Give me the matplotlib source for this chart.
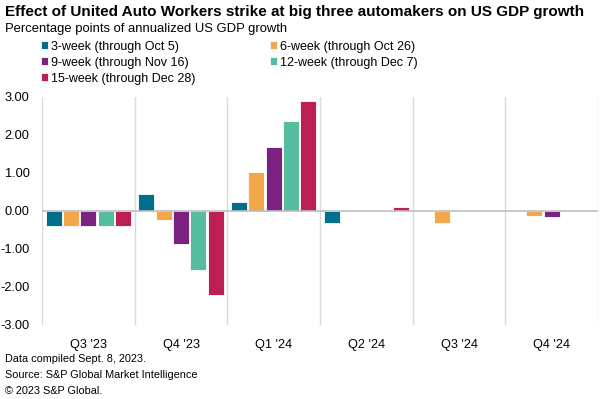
import matplotlib
matplotlib.use("Agg")
import matplotlib.pyplot as plt
import numpy as np

plt.rcParams['font.family'] = ['Liberation Sans', 'DejaVu Sans']

categories = ["Q3 '23", "Q4 '23", "Q1 '24", "Q2 '24", "Q3 '24", "Q4 '24"]
series_names = ["3-week (through Oct 5)", "6-week (through Oct 26)",
                "9-week (through Nov 16)", "12-week (through Dec 7)",
                "15-week (through Dec 28)"]
wk3 = [-0.40, 0.45, 0.23, -0.33, 0.0, 0.0]
wk6 = [-0.40, -0.23, 1.03, 0.0, -0.33, -0.13]
wk9 = [-0.40, -0.88, 1.67, 0.0, 0.0, -0.15]
wk12 = [-0.40, -1.55, 2.35, 0.0, 0.0, 0.0]
wk15 = [-0.40, -2.20, 2.88, 0.10, 0.0, 0.0]
series = [wk3, wk6, wk9, wk12, wk15]
colors = ["#006F8B", "#F3A74B", "#7A2182", "#55BC9F", "#BC1F51"]
yticks = [3, 2, 1, 0, -1, -2, -3]

fig = plt.figure(figsize=(6, 3.99), dpi=100)
ax = fig.add_axes([0.07, 0.1855, 0.9267, 0.5721])

x = np.arange(len(categories))
slot = 0.187
bw = 0.172
handles = []
for i, (vals, c, name) in enumerate(zip(series, colors, series_names)):
    h = ax.bar(x + (i - 2) * slot, vals, width=bw, color=c, edgecolor='white',
               linewidth=0.6, label=name, zorder=3)
    handles.append(h)

ax.set_xlim(-0.5, len(categories) - 0.5)
ax.set_ylim(-3, 3)
ax.set_yticks(yticks)
ax.set_yticklabels([f"{v:.2f}".replace("\u2212", "-") for v in yticks], fontsize=9.2)
ax.set_xticks(x)
ax.set_xticklabels(categories, fontsize=9.2)
ax.tick_params(axis='both', length=0)
ax.tick_params(axis='y', pad=9)
ax.tick_params(axis='x', pad=10)
for s in ['top', 'right', 'bottom', 'left']:
    ax.spines[s].set_visible(False)
for b in np.arange(-0.5, len(categories) + 0.5, 1):
    ax.axvline(b, color='#d9d9d9', linewidth=1, zorder=1)
ax.axhline(0, color='#bfbfbf', linewidth=1.2, zorder=4)

fig.text(0.008, 0.988, "Effect of United Auto Workers strike at big three automakers on US GDP growth",
         fontsize=11, fontweight='bold', va='top', ha='left')
fig.text(0.008, 0.942, "Percentage points of annualized US GDP growth",
         fontsize=9.4, va='top', ha='left')

order = [0, 2, 4, 1, 3]
leg = fig.legend([handles[i] for i in order], [series_names[i] for i in order],
                 ncol=2, loc='upper left',
                 bbox_to_anchor=(0.068, 0.898), frameon=False, fontsize=9,
                 handlelength=0.6, handleheight=0.6, handletextpad=0.25,
                 columnspacing=5.9, labelspacing=0.32, borderaxespad=0,
                 borderpad=0)

fig.text(0.008, 0.1, "Data compiled Sept. 8, 2023.", fontsize=7.8, va='center')
fig.text(0.008, 0.06, "Source: S&P Global Market Intelligence", fontsize=7.8, va='center')
fig.text(0.008, 0.02, "© 2023 S&P Global.", fontsize=7.8, va='center')

fig.savefig("out.png", dpi=100)
